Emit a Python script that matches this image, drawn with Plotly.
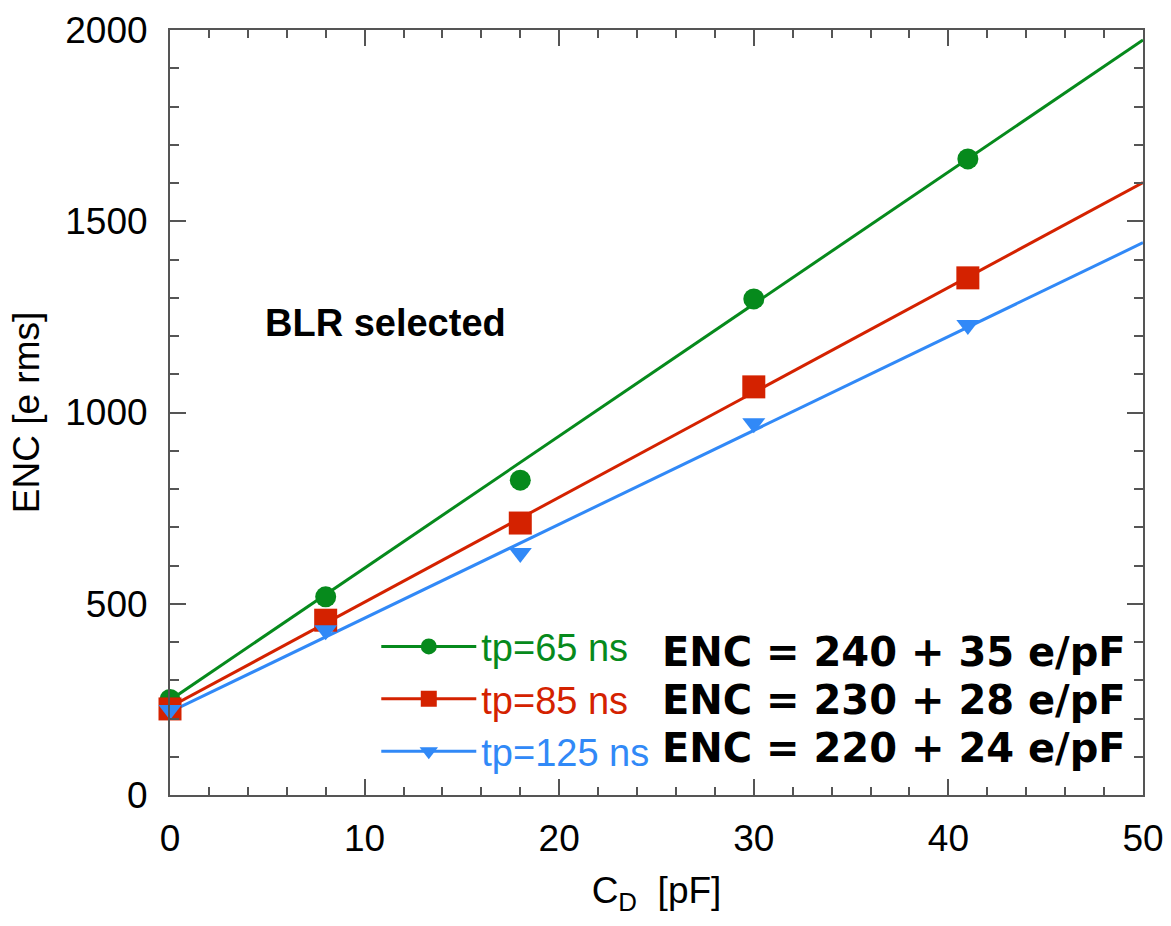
import plotly.graph_objects as go

# Data
cd_points = [0, 8, 18, 30, 41]
enc_65 = [250, 518, 823, 1297, 1663]
enc_85 = [225, 457, 711, 1067, 1352]
enc_125 = [222, 431, 633, 972, 1229]

fit_x = [0, 50]
fit_65 = [248, 1974]
fit_85 = [230, 1601]
fit_125 = [217, 1444]

names = ["tp=65 ns", "tp=85 ns", "tp=125 ns"]
equations = ["ENC = 240 + 35 e/pF", "ENC = 230 + 28 e/pF", "ENC = 220 + 24 e/pF"]

colors = ["#068a1c", "#d42200", "#3189f7"]
symbols = ["circle", "square", "triangle-down"]
msizes = [21, 23, 20]

series = [enc_65, enc_85, enc_125]
fits = [fit_65, fit_85, fit_125]

fig = go.Figure()
for i in range(3):
    fig.add_trace(go.Scatter(x=fit_x, y=fits[i], mode="lines",
                             line=dict(color=colors[i], width=3),
                             showlegend=False, cliponaxis=False))
for i in range(3):
    fig.add_trace(go.Scatter(x=cd_points, y=series[i], mode="markers",
                             marker=dict(color=colors[i], symbol=symbols[i], size=msizes[i]),
                             showlegend=False, cliponaxis=False))
for i in range(3):
    fig.add_trace(go.Scatter(x=[None], y=[None], mode="lines+markers",
                             line=dict(color=colors[i], width=3),
                             marker=dict(color=colors[i], symbol=symbols[i], size=msizes[i]),
                             name=f'<span style="color:{colors[i]}">{names[i]}</span>'))

axis_common = dict(
    showline=True, linecolor="#555555", linewidth=2, mirror="allticks",
    ticks="inside", tickcolor="#555555", tickwidth=1.5, ticklen=16,
    showgrid=False, zeroline=False, automargin=False,
    tickfont=dict(family="Liberation Sans, Arial", size=37, color="black"),
)

fig.update_xaxes(range=[0, 50], dtick=10, tick0=0,
                 minor=dict(dtick=2, ticks="inside", ticklen=8, tickcolor="#555555", tickwidth=1.5),
                 ticklabelstandoff=10,
                 title=dict(text="C<sub>D</sub>  [pF]", font=dict(family="Liberation Sans, Arial", size=37, color="black"),
                            standoff=19),
                 **axis_common)
fig.update_yaxes(range=[0, 2000], dtick=500, tick0=0,
                 minor=dict(dtick=100, ticks="inside", ticklen=9, tickcolor="#555555", tickwidth=1.5),
                 ticklabelstandoff=13,
                 title=dict(text="ENC [e rms]", font=dict(family="Liberation Sans, Arial", size=37, color="black"),
                            standoff=14),
                 **axis_common)

fig.add_annotation(text="<b>BLR selected</b>", xref="x", yref="y", x=4.8, y=1235,
                   xanchor="left", yanchor="middle", showarrow=False,
                   font=dict(family="Liberation Sans, Arial", size=38, color="black"))

for i, eq in enumerate(equations):
    fig.add_annotation(text=f"<b>{eq}</b>", xref="paper", yref="paper",
                       x=0.985, y=(795 - (652 + 48 * i)) / 765,
                       xanchor="right", yanchor="middle", showarrow=False,
                       font=dict(family="DejaVu Sans", size=40, color="black"))

fig.update_layout(
    width=1171, height=926,
    margin=dict(l=170, r=28, t=30, b=131),
    plot_bgcolor="white", paper_bgcolor="white",
    legend=dict(x=0.212, y=0.235, xanchor="left", yanchor="top",
                bgcolor="rgba(0,0,0,0)", itemwidth=95,
                font=dict(family="Liberation Sans, Arial", size=38),
                tracegroupgap=0),
)

fig.write_html("out.html", config={"displayModeBar": False},
               post_script="document.body.style.margin='0';document.body.style.overflow='hidden';")
